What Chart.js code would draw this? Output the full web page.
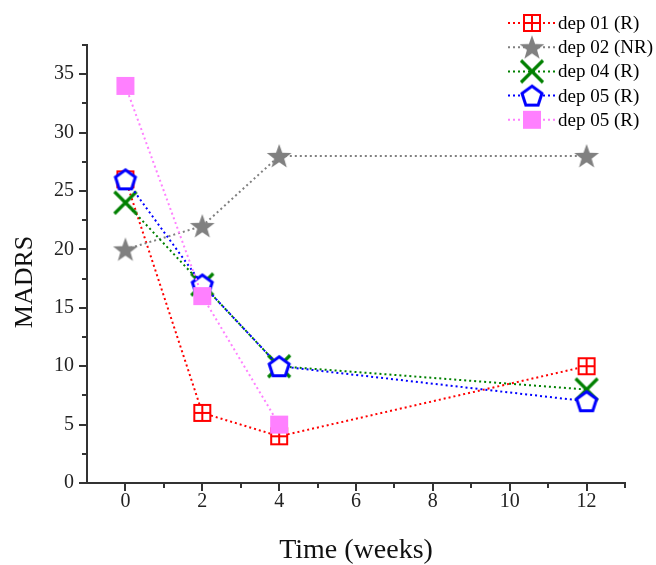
<!DOCTYPE html>
<html>
<head>
<meta charset="utf-8">
<script src="https://cdn.jsdelivr.net/npm/chart.js@4"></script>
<style>
  html, body { margin: 0; padding: 0; background: #fff; }
  #wrap { width: 656px; height: 565px; }
</style>
</head>
<body>
<div id="wrap"><canvas id="madrs"></canvas></div>
<script>
// Scores MADRS par patient, semaines 0, 2, 4 et 12
const weeks = [0, 2, 4, 12];
const labels = ['dep 01 (R)', 'dep 02 (NR)', 'dep 04 (R)', 'dep 05 (R)', 'dep 05 (R)'];
const dep01 = [26, 6, 4, 10];
const dep02 = [20, 22, 28, 28];
const dep04 = [24, 17, 10, 8];
const dep05 = [26, 17, 10, 7];
const dep05b = [34, 16, 5, null];

const xTicks = [0, 2, 4, 6, 8, 10, 12];
const yTicks = [0, 5, 10, 15, 20, 25, 30, 35];
const yTitle = 'MADRS';

const SERIF = '"Liberation Serif", "Times New Roman", serif';

// petits canvas servant de pointStyle
function marker(size, draw) {
    const c = document.createElement('canvas');
    c.width = size; c.height = size;
    const ctx = c.getContext('2d');
    draw(ctx, size / 2);
    return c;
}

const mkSquareCross = marker(20, (ctx, m) => {
    ctx.fillStyle = '#fff';
    ctx.fillRect(m - 8, m - 8, 16, 16);
    ctx.strokeStyle = '#ff0000';
    ctx.lineWidth = 2;
    ctx.strokeRect(m - 8, m - 8, 16, 16);
    ctx.beginPath();
    ctx.moveTo(m, m - 8); ctx.lineTo(m, m + 8);
    ctx.moveTo(m - 8, m); ctx.lineTo(m + 8, m);
    ctx.stroke();
});

const mkStar = marker(28, (ctx, m) => {
    ctx.fillStyle = '#808080';
    ctx.beginPath();
    for (let i = 0; i < 10; i++) {
        const r = i % 2 === 0 ? 13 : 5.3;
        const a = -Math.PI / 2 + i * Math.PI / 5;
        const px = m + r * Math.cos(a), py = m + 1 + r * Math.sin(a);
        i === 0 ? ctx.moveTo(px, py) : ctx.lineTo(px, py);
    }
    ctx.closePath();
    ctx.fill();
});

const mkCross = marker(28, (ctx, m) => {
    ctx.strokeStyle = '#008000';
    ctx.lineWidth = 3.2;
    ctx.beginPath();
    ctx.moveTo(m - 11, m - 11); ctx.lineTo(m + 11, m + 11);
    ctx.moveTo(m + 11, m - 11); ctx.lineTo(m - 11, m + 11);
    ctx.stroke();
});

const mkPentagon = marker(28, (ctx, m) => {
    ctx.beginPath();
    for (let i = 0; i < 5; i++) {
        const a = -Math.PI / 2 + i * 2 * Math.PI / 5;
        const px = m + 10.5 * Math.cos(a), py = m + 1 + 10.5 * Math.sin(a);
        i === 0 ? ctx.moveTo(px, py) : ctx.lineTo(px, py);
    }
    ctx.closePath();
    ctx.fillStyle = '#fff';
    ctx.fill();
    ctx.strokeStyle = '#0000ff';
    ctx.lineWidth = 3;
    ctx.stroke();
});

const mkSquare = marker(20, (ctx, m) => {
    ctx.fillStyle = '#ff80ff';
    ctx.fillRect(m - 9, m - 9, 18, 18);
});

function serie(i, values, color, style) {
    return {
        label: labels[i],
        data: weeks.map((w, k) => ({ x: w, y: values[k] })).filter(p => p.y !== null),
        borderColor: color,
        backgroundColor: color,
        borderWidth: 2,
        borderDash: [2, 3],
        pointStyle: style,
        pointRadius: 10,
        showLine: true,
        order: 5 - i,
    };
}

const datasets = [
    serie(0, dep01, '#ff0000', mkSquareCross),
    serie(1, dep02, '#808080', mkStar),
    serie(2, dep04, '#008000', mkCross),
    serie(3, dep05, '#0000ff', mkPentagon),
    serie(4, dep05b, '#ff80ff', mkSquare),
];

// graduations (majeures et mineures) dessinées vers l'extérieur + titre vertical
const axisTicks = {
    id: 'axisTicks',
    afterDraw(chart) {
        const { ctx, scales: { x, y } } = chart;
        ctx.save();
        ctx.strokeStyle = '#333';
        ctx.lineWidth = 2;
        ctx.beginPath();
        for (let v = 0; v <= 37.5; v += 2.5) {
            const py = Math.round(y.getPixelForValue(v));
            const len = v % 5 === 0 ? 8 : 5;
            ctx.moveTo(x.left, py); ctx.lineTo(x.left - len, py);
        }
        for (let v = 0; v <= 13; v += 1) {
            const px = Math.round(x.getPixelForValue(v));
            const len = v % 2 === 0 ? 8 : 5;
            ctx.moveTo(px, y.bottom); ctx.lineTo(px, y.bottom + len);
        }
        ctx.stroke();

        // titre de l'axe y, un peu sous le milieu comme dans Origin
        ctx.translate(y.left + 25, (y.top + y.bottom) / 2 + 18);
        ctx.rotate(-Math.PI / 2);
        ctx.font = '26px ' + SERIF;
        ctx.fillStyle = '#111';
        ctx.textAlign = 'center';
        ctx.textBaseline = 'middle';
        ctx.fillText(yTitle, 0, 0);
        ctx.restore();
    },
};

// légende façon Origin : ligne pointillée + symbole + texte
const originLegend = {
    id: 'originLegend',
    afterDraw(chart) {
        const ctx = chart.ctx;
        ctx.save();
        ctx.font = '19px ' + SERIF;
        ctx.textBaseline = 'middle';
        ctx.fillStyle = '#000';
        chart.data.datasets.forEach((ds, i) => {
            const yy = 23 + i * 24.2;
            ctx.strokeStyle = ds.borderColor;
            ctx.lineWidth = 2;
            ctx.setLineDash([2, 3]);
            ctx.beginPath();
            ctx.moveTo(508, yy); ctx.lineTo(556, yy);
            ctx.stroke();
            ctx.setLineDash([]);
            const img = ds.pointStyle;
            ctx.drawImage(img, 532 - img.width / 2, yy - img.height / 2);
            ctx.fillText(ds.label, 558, yy + 1);
        });
        ctx.restore();
    },
};

new Chart(document.getElementById('madrs'), {
    type: 'scatter',
    data: { datasets },
    plugins: [axisTicks, originLegend],
    options: {
        responsive: true,
        maintainAspectRatio: false,
        animation: false,
        layout: { padding: { top: 45, right: 31, left: 0, bottom: 0 } },
        scales: {
            x: {
                type: 'linear',
                min: -1,
                max: 13,
                afterFit: (s) => { s.height = 82; },
                afterBuildTicks: (s) => { s.ticks = xTicks.map(v => ({ value: v })); },
                grid: { display: false, drawTicks: false },
                border: { display: true, color: '#333', width: 2 },
                ticks: { color: '#222', font: { family: SERIF, size: 20 }, padding: 7 },
                title: {
                    display: true,
                    text: 'Time (weeks)',
                    color: '#111',
                    font: { family: SERIF, size: 28 },
                    padding: { top: 0, bottom: -2 },
                },
            },
            y: {
                min: 0,
                max: 37.5,
                afterFit: (s) => { s.width = 87; },
                afterBuildTicks: (s) => { s.ticks = yTicks.map(v => ({ value: v })); },
                grid: { display: false, drawTicks: false },
                border: { display: true, color: '#333', width: 2 },
                ticks: { color: '#222', font: { family: SERIF, size: 20 }, padding: 13 },
                title: { display: false },
            },
        },
        plugins: {
            legend: { display: false },
            tooltip: { enabled: false },
        },
    },
});
</script>
</body>
</html>
